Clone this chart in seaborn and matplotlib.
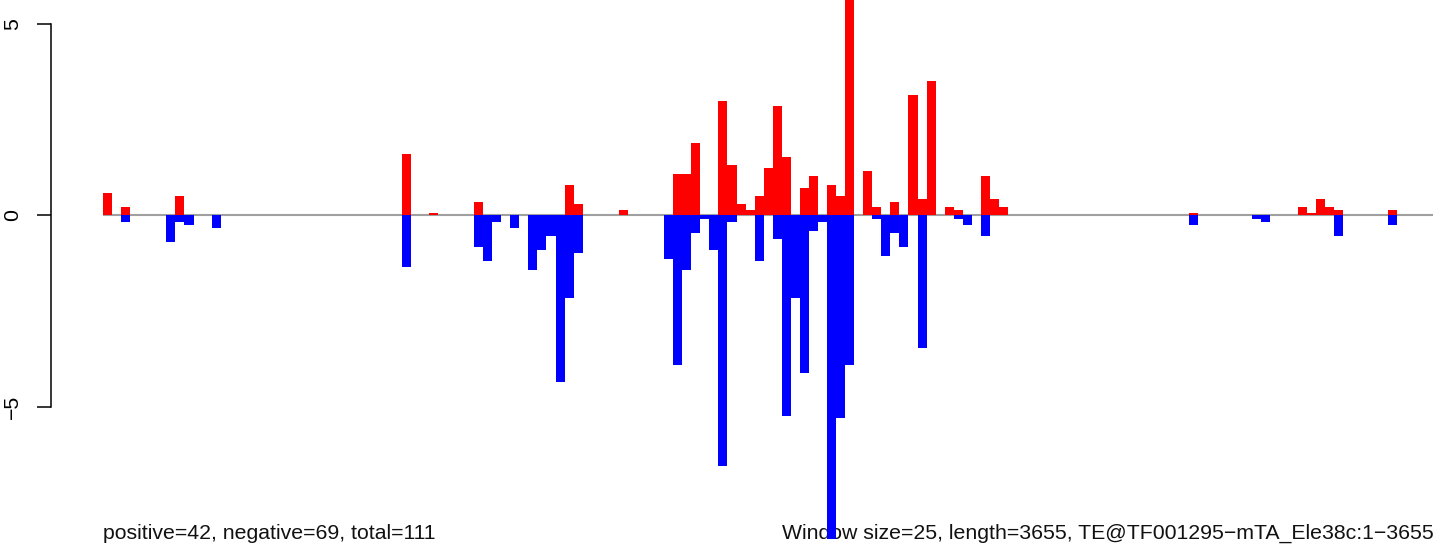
import numpy as np
import pandas as pd
import matplotlib
matplotlib.use("Agg")
import matplotlib.pyplot as plt
import matplotlib.transforms as mtransforms
import seaborn as sns

# ---- data ----
n_windows = 147  # 3655 bp / window size 25
pos_windows = [0, 2, 8, 33, 36, 41, 51, 52, 57, 63, 64, 65, 68, 69, 70, 71, 72, 73,
               74, 75, 77, 78, 80, 81, 82, 84, 85, 87, 89, 90, 91, 93, 94, 97, 98,
               99, 120, 132, 133, 134, 135, 136, 142]
pos_values = [0.59, 0.22, 0.51, 1.61, 0.07, 0.35, 0.80, 0.30, 0.14, 1.09, 1.09, 1.90,
              3.00, 1.32, 0.30, 0.14, 0.51, 1.24, 2.87, 1.53, 0.72, 1.03, 0.80, 0.51,
              6.00, 1.16, 0.22, 0.35, 3.15, 0.43, 3.52, 0.22, 0.14, 1.03, 0.43, 0.22,
              0.07, 0.22, 0.07, 0.43, 0.22, 0.14, 0.14]
neg_windows = [2, 7, 8, 9, 12, 33, 41, 42, 43, 45, 47, 48, 49, 50, 51, 52, 62, 63, 64,
               65, 66, 67, 68, 69, 72, 74, 75, 76, 77, 78, 79, 80, 81, 82, 85, 86, 87,
               88, 90, 94, 95, 97, 120, 127, 128, 136, 142]
neg_values = [-0.17, -0.69, -0.17, -0.25, -0.33, -1.35, -0.82, -1.19, -0.17, -0.33,
              -1.43, -0.90, -0.54, -4.36, -2.16, -0.98, -1.14, -3.91, -1.43, -0.46,
              -0.09, -0.90, -6.56, -0.17, -1.19, -0.62, -5.25, -2.16, -4.12, -0.41,
              -0.17, -8.50, -5.30, -3.91, -0.09, -1.06, -0.46, -0.82, -3.47, -0.09,
              -0.25, -0.54, -0.24, -0.09, -0.17, -0.54, -0.24]
y_ticks = [-5, 0, 5]
left_text = "positive=42, negative=69, total=111"
right_text = "Window size=25, length=3655, TE@TF001295\u2212mTA_Ele38c:1\u22123655"

windows = np.arange(n_windows)
pos = np.zeros(n_windows)
pos[pos_windows] = pos_values
neg = np.zeros(n_windows)
neg[neg_windows] = neg_values
df = pd.DataFrame({"window": windows, "pos": pos, "neg": neg})

# ---- style ----
sns.set_style("white")
plt.rcParams["font.family"] = ["Liberation Sans", "DejaVu Sans"]

W, H = 1444, 560
fig = plt.figure(figsize=(W / 100, H / 100), dpi=100)
ax_left_px, ax_bottom_px = 51, 539
ax = fig.add_axes([ax_left_px / W, (H - ax_bottom_px) / H,
                   (W - ax_left_px) / W, ax_bottom_px / H])

# zero line (under the bars)
ax.plot([-0.5, n_windows - 0.5], [0, 0], color="#a0a0a0", lw=1.5, zorder=1,
        solid_capstyle="butt")

sns.barplot(data=df, x="window", y="pos", color="#FF0000", saturation=1,
            width=1.0, linewidth=0, errorbar=None, ax=ax, zorder=2)
sns.barplot(data=df, x="window", y="neg", color="#0000FF", saturation=1,
            width=1.0, linewidth=0, errorbar=None, ax=ax, zorder=2)

px_per_bar = 9.05
first_bar_px = 103
ax.set_xlim((ax_left_px - first_bar_px) / px_per_bar - 0.5,
            (W - first_bar_px) / px_per_bar - 0.5)
px_per_unit = 38.2
zero_px = 215.5
ax.set_ylim(-(ax_bottom_px - zero_px) / px_per_unit, zero_px / px_per_unit)

ax.set_xticks([])
ax.set_xlabel("")
ax.set_ylabel("")
ax.set_yticks(y_ticks)
ax.set_yticklabels([str(t).replace("-", "\u2212") for t in y_ticks])
ax.tick_params(axis="y", left=True, length=10, width=1.1, pad=11, labelsize=15.3,
               labelrotation=90, color="black", labelcolor="black", direction="out")
for lbl in ax.get_yticklabels():
    lbl.set_va("center")

for s in ["top", "right", "bottom"]:
    ax.spines[s].set_visible(False)
ax.spines["left"].set_bounds(-5, 5)
ax.spines["left"].set_linewidth(1.1)
ax.spines["left"].set_color("black")

trans = mtransforms.blended_transform_factory(ax.transData, ax.transAxes)
ax.text(-0.5, 0, left_text, transform=trans, ha="left", va="baseline",
        fontsize=15.35, color="#111111", zorder=1, clip_on=False)
ax.text(n_windows - 0.5, 0, right_text, transform=trans, ha="right", va="baseline",
        fontsize=15.35, color="#111111", zorder=1, clip_on=False)

fig.savefig("out.png", dpi=100)
